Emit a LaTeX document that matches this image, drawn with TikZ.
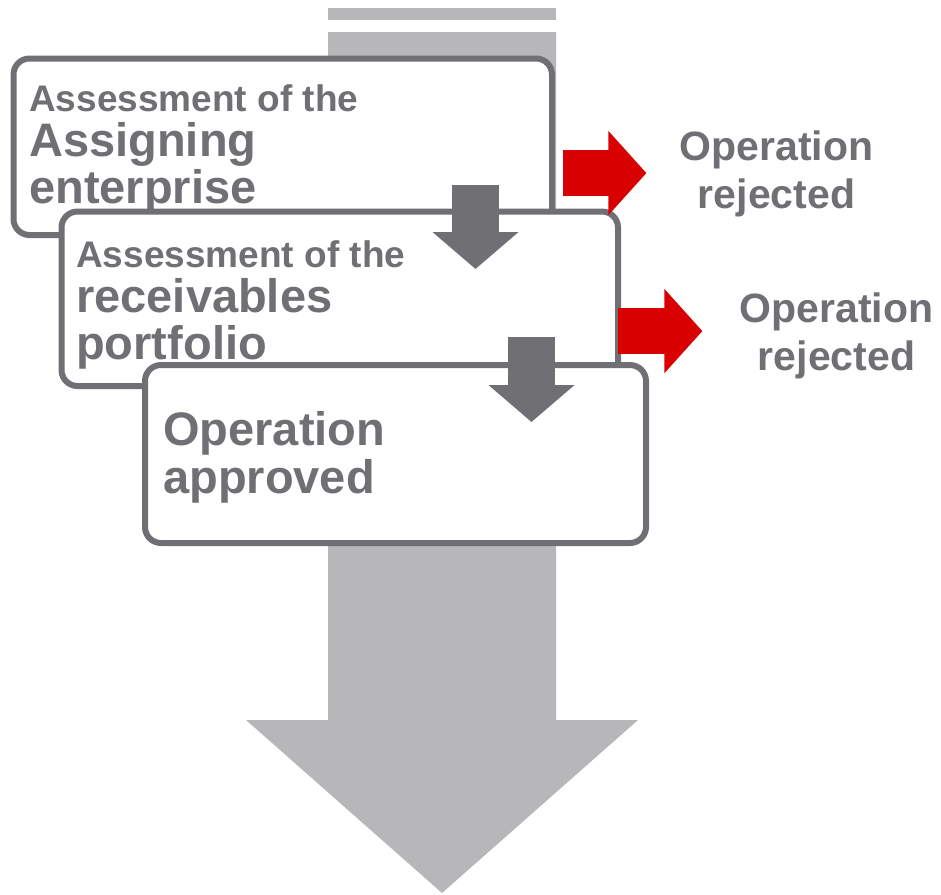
\documentclass[tikz,border=0pt]{standalone}
\usepackage{fontspec}
\setmainfont{Liberation Sans}
\usepackage{tikz}
\usetikzlibrary{
  arrows.meta,
  calc,
  fit
}
\usepackage{xcolor}
\definecolor{boxgray}{RGB}{112,112,116}
\definecolor{flowgray}{RGB}{183,183,185}
\definecolor{rejectred}{RGB}{216,0,0}

\begin{document}
\begin{tikzpicture}[x = 0.75pt, y = -0.75pt]
  \tikzset{
    stepbox/.style = {draw = boxgray, line width = 4.5pt, fill = white, rounded corners = 12pt, inner sep = 0pt, outer sep = 0pt},
    boxtext/.style = {anchor = base west, align = left, inner sep = 0pt, text = boxgray, font = \fontsize{35.25}{35.5}\selectfont\bfseries},
    rejtext/.style = {anchor = base, align = center, inner sep = 0pt, text = boxgray, font = \fontsize{30.75}{35.75}\selectfont\bfseries},
    rejarrow/.style = {draw = rejectred, line width = 34.5pt, -{Triangle[length = 28.5pt, width = 61.5pt]}},
    downarrow/.style = {draw = boxgray, line width = 35.25pt, -{Triangle[length = 27.75pt, width = 63pt]}}
  }
  \useasboundingbox (0,0) rectangle (941,894);

  \fill[flowgray] (328,8) rectangle (556,20);
  \fill[flowgray] (328,32) -- (328,720) -- (246,720) -- (442,893) -- (638,720) -- (556,720) -- (556,32) -- cycle;

  % base anchor sits on the last line
  \node[stepbox, fit = {(13.5,58.5) (552,235)}] (box1) {};
  \node[boxtext] (enterprise) at (29,203.5) {{\fontsize{27.75}{27.75}\selectfont Assessment of the}\\[-1.7pt]Assigning\\enterprise};
  \node[stepbox, fit = {(61.5,211.5) (618,386)}] (box2) {};
  \node[boxtext] (portfolio) at (76,359.5) {{\fontsize{27.75}{27.75}\selectfont Assessment of the}\\[-1.9pt]receivables\\portfolio};
  \node[stepbox, fit = {(145,365) (646,543)}] (box3) {};
  \node[boxtext] (approved) at (163,493) {Operation\\approved};

  \node[rejtext] (rej1) at (776.5,208.5) {Operation\\rejected};
  \node[rejtext] (rej2) at (836.5,370.5) {Operation\\rejected};

  \draw[downarrow] ($(box1.south east)+(-76.5,-50)$) -- ($(box2.north east)+(-142.5,57.5)$);
  \draw[downarrow] ($(box2.south east)+(-86.5,-49)$) -- ($(box3.north east)+(-114.5,57)$);

  \draw[rejarrow] ($(box1.east |- rej1.west)+(11,-1)$) -- ($(rej1.west)+(-33,-1)$);
  \draw[rejarrow] ($(box2.east |- rej2.west)+(0,-5)$) -- ($(rej2.west)+(-37,-5)$);
\end{tikzpicture}
\end{document}
